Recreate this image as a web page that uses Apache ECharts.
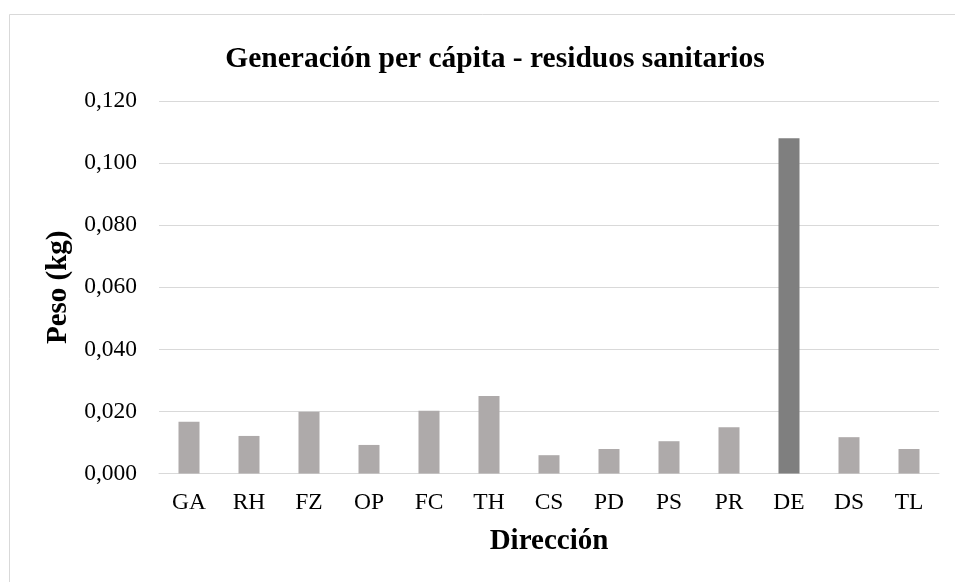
<!DOCTYPE html>
<html>
<head>
<meta charset="utf-8">
<script src="https://cdn.jsdelivr.net/npm/echarts@6/dist/echarts.min.js"></script>
<style>
  html, body { margin: 0; padding: 0; background: #fff; }
  #chart { width: 955px; height: 582px; }
</style>
</head>
<body>
<div id="chart"></div>
<script>
// Per-capita generation of sanitary waste by directorate (kg)
const direcciones = ['GA', 'RH', 'FZ', 'OP', 'FC', 'TH', 'CS', 'PD', 'PS', 'PR', 'DE', 'DS', 'TL'];
const pesoKg = [0.0167, 0.0121, 0.0199, 0.0092, 0.0202, 0.0250, 0.0059, 0.0079, 0.0104, 0.0149, 0.1080, 0.0117, 0.0079];
const destacada = 'DE';

const serif = 'Liberation Serif';
const chart = echarts.init(document.getElementById('chart'));

chart.setOption({
  backgroundColor: '#ffffff',
  animation: false,
  graphic: [{
    type: 'rect',
    shape: { x: 9.5, y: 14.5, width: 1000, height: 1000 },
    style: { fill: 'none', stroke: '#d9d9d9', lineWidth: 1 },
    silent: true
  }],
  title: {
    text: 'Generación per cápita - residuos sanitarios',
    left: 490,
    textAlign: 'center',
    top: 39,
    textStyle: { fontFamily: serif, fontSize: 29.5, fontWeight: 'bold', color: '#000' }
  },
  grid: { left: 159, right: 16, top: 101, bottom: 108.5, containLabel: false },
  xAxis: {
    type: 'category',
    data: direcciones,
    name: 'Dirección',
    nameLocation: 'middle',
    nameGap: 54,
    nameTextStyle: { fontFamily: serif, fontSize: 29, fontWeight: 'bold', color: '#000' },
    axisLine: { show: true, lineStyle: { color: '#d9d9d9', width: 1 } },
    axisTick: { show: false },
    axisLabel: { fontFamily: serif, fontSize: 23.5, color: '#000', margin: 17 }
  },
  yAxis: {
    type: 'value',
    min: 0,
    max: 0.12,
    interval: 0.02,
    name: 'Peso (kg)',
    nameLocation: 'middle',
    nameRotate: 90,
    nameGap: 78,
    nameTextStyle: { fontFamily: serif, fontSize: 29, fontWeight: 'bold', color: '#000' },
    axisLine: { show: false },
    axisTick: { show: false },
    splitLine: { lineStyle: { color: '#d9d9d9', width: 1 } },
    axisLabel: {
      fontFamily: serif, fontSize: 23.5, color: '#000', margin: 22,
      formatter: v => v.toFixed(3).replace('.', ',')
    }
  },
  series: [{
    type: 'bar',
    barWidth: '35%',
    data: pesoKg.map((v, i) => ({
      value: v,
      itemStyle: { color: direcciones[i] === destacada ? '#7f7f7f' : '#aeaaaa' }
    }))
  }]
});
</script>
</body>
</html>
